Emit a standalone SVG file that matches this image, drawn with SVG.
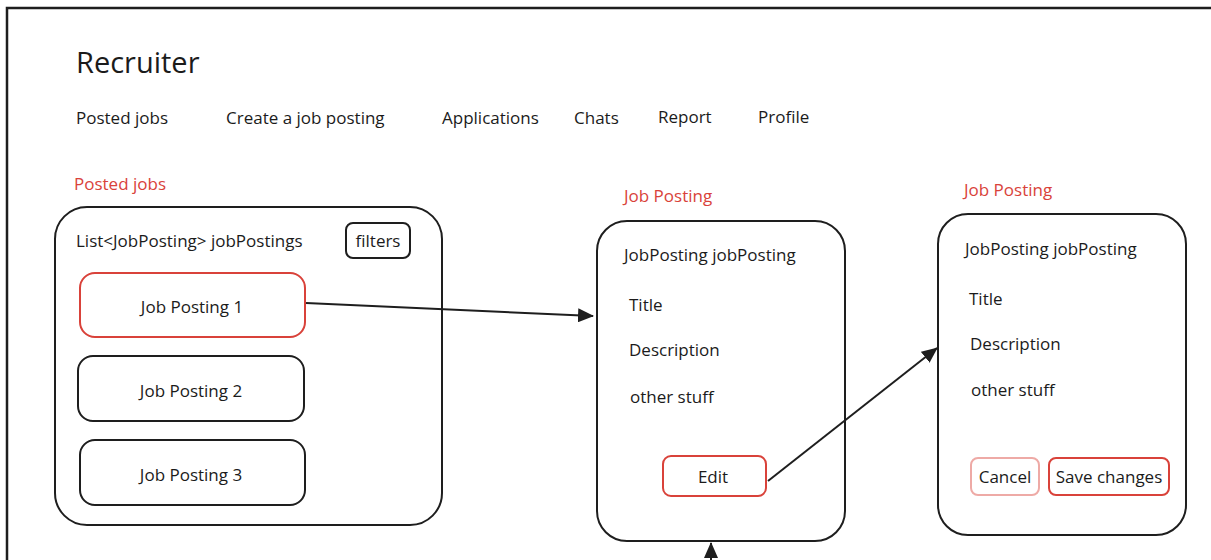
<svg xmlns="http://www.w3.org/2000/svg" width="1211" height="560" viewBox="0 0 1211 560">
  <defs>
    <style>
      .t { font-family: "Open Sans", "Noto Sans", "Liberation Sans", sans-serif; fill: #1b1b1b; font-size: 17px; }
      .red { fill: #d9423a; }
      .mid { text-anchor: middle; dominant-baseline: central; }
      .box { fill: none; stroke: #1e1e1e; stroke-width: 2; }
      .rbox { fill: none; stroke: #d9423a; stroke-width: 2; }
      .pbox { fill: none; stroke: #eeaaa6; stroke-width: 2; }
      .edge { fill: none; stroke: #1e1e1e; stroke-width: 2; marker-end: url(#arrow); }
    </style>
    <marker id="arrow" viewBox="0 0 16 14" refX="15" refY="7" markerWidth="16" markerHeight="14" markerUnits="userSpaceOnUse" orient="auto">
      <path d="M0,0 L16,7 L0,14 Z" fill="#1e1e1e"/>
    </marker>
  </defs>

  <rect width="1211" height="560" fill="#ffffff"/>
  <!-- page frame -->
  <path d="M7,562 L7,8 L1213,8" fill="none" stroke="#1e1e1e" stroke-width="2.5"/>

  <!-- header and navigation -->
  <g id="header">
    <text class="t" x="76" y="73" style="font-size:29px">Recruiter</text>
    <text class="t" x="76" y="124">Posted jobs</text>
    <text class="t" x="226" y="124">Create a job posting</text>
    <text class="t" x="442" y="124">Applications</text>
    <text class="t" x="574" y="124">Chats</text>
    <text class="t" x="658" y="123">Report</text>
    <text class="t" x="758" y="123">Profile</text>
  </g>

  <!-- posted jobs list -->
  <g id="posted-jobs">
    <text class="t red" x="74" y="190">Posted jobs</text>
    <rect class="box" x="55" y="207" width="387" height="318" rx="32"/>
    <text class="t" x="76" y="247">List&lt;JobPosting&gt; jobPostings</text>
  </g>
  <g id="filters">
    <rect class="box" x="346" y="223" width="64" height="35" rx="7"/>
    <text class="t mid" x="378" y="240">filters</text>
  </g>
  <g id="job-posting-1">
    <rect class="rbox" x="80" y="273" width="225" height="64" rx="15"/>
    <text class="t mid" x="192" y="306">Job Posting 1</text>
  </g>
  <g id="job-posting-2">
    <rect class="box" x="78" y="356" width="226" height="65" rx="15"/>
    <text class="t mid" x="191" y="390">Job Posting 2</text>
  </g>
  <g id="job-posting-3">
    <rect class="box" x="80" y="440" width="225" height="65" rx="15"/>
    <text class="t mid" x="191" y="474">Job Posting 3</text>
  </g>

  <!-- job posting detail view -->
  <g id="job-posting-view">
    <text class="t red" x="624" y="202">Job Posting</text>
    <rect class="box" x="597" y="221" width="248" height="320" rx="30"/>
    <text class="t" x="624" y="261">JobPosting jobPosting</text>
    <text class="t" x="629" y="311">Title</text>
    <text class="t" x="629" y="356">Description</text>
    <text class="t" x="630" y="403">other stuff</text>
  </g>
  <g id="edit-button">
    <rect class="rbox" x="663" y="456" width="103" height="40" rx="8"/>
    <text class="t mid" x="713" y="476">Edit</text>
  </g>

  <!-- job posting edit view -->
  <g id="job-posting-edit">
    <text class="t red" x="964" y="196">Job Posting</text>
    <rect class="box" x="938" y="214" width="248" height="321" rx="30"/>
    <text class="t" x="965" y="255">JobPosting jobPosting</text>
    <text class="t" x="969" y="305">Title</text>
    <text class="t" x="970" y="350">Description</text>
    <text class="t" x="971" y="396">other stuff</text>
  </g>
  <g id="cancel-button">
    <rect class="pbox" x="971" y="458" width="68" height="37" rx="7"/>
    <text class="t mid" x="1005" y="476">Cancel</text>
  </g>
  <g id="save-button">
    <rect class="rbox" x="1049" y="458" width="120" height="37" rx="7"/>
    <text class="t mid" x="1109" y="476">Save changes</text>
  </g>

  <!-- connectors -->
  <g id="connectors">
    <path class="edge" d="M306,303 L593,316"/>
    <path class="edge" d="M768,481 L937,348"/>
    <path class="edge" d="M711,562 L711,543"/>
  </g>
</svg>
